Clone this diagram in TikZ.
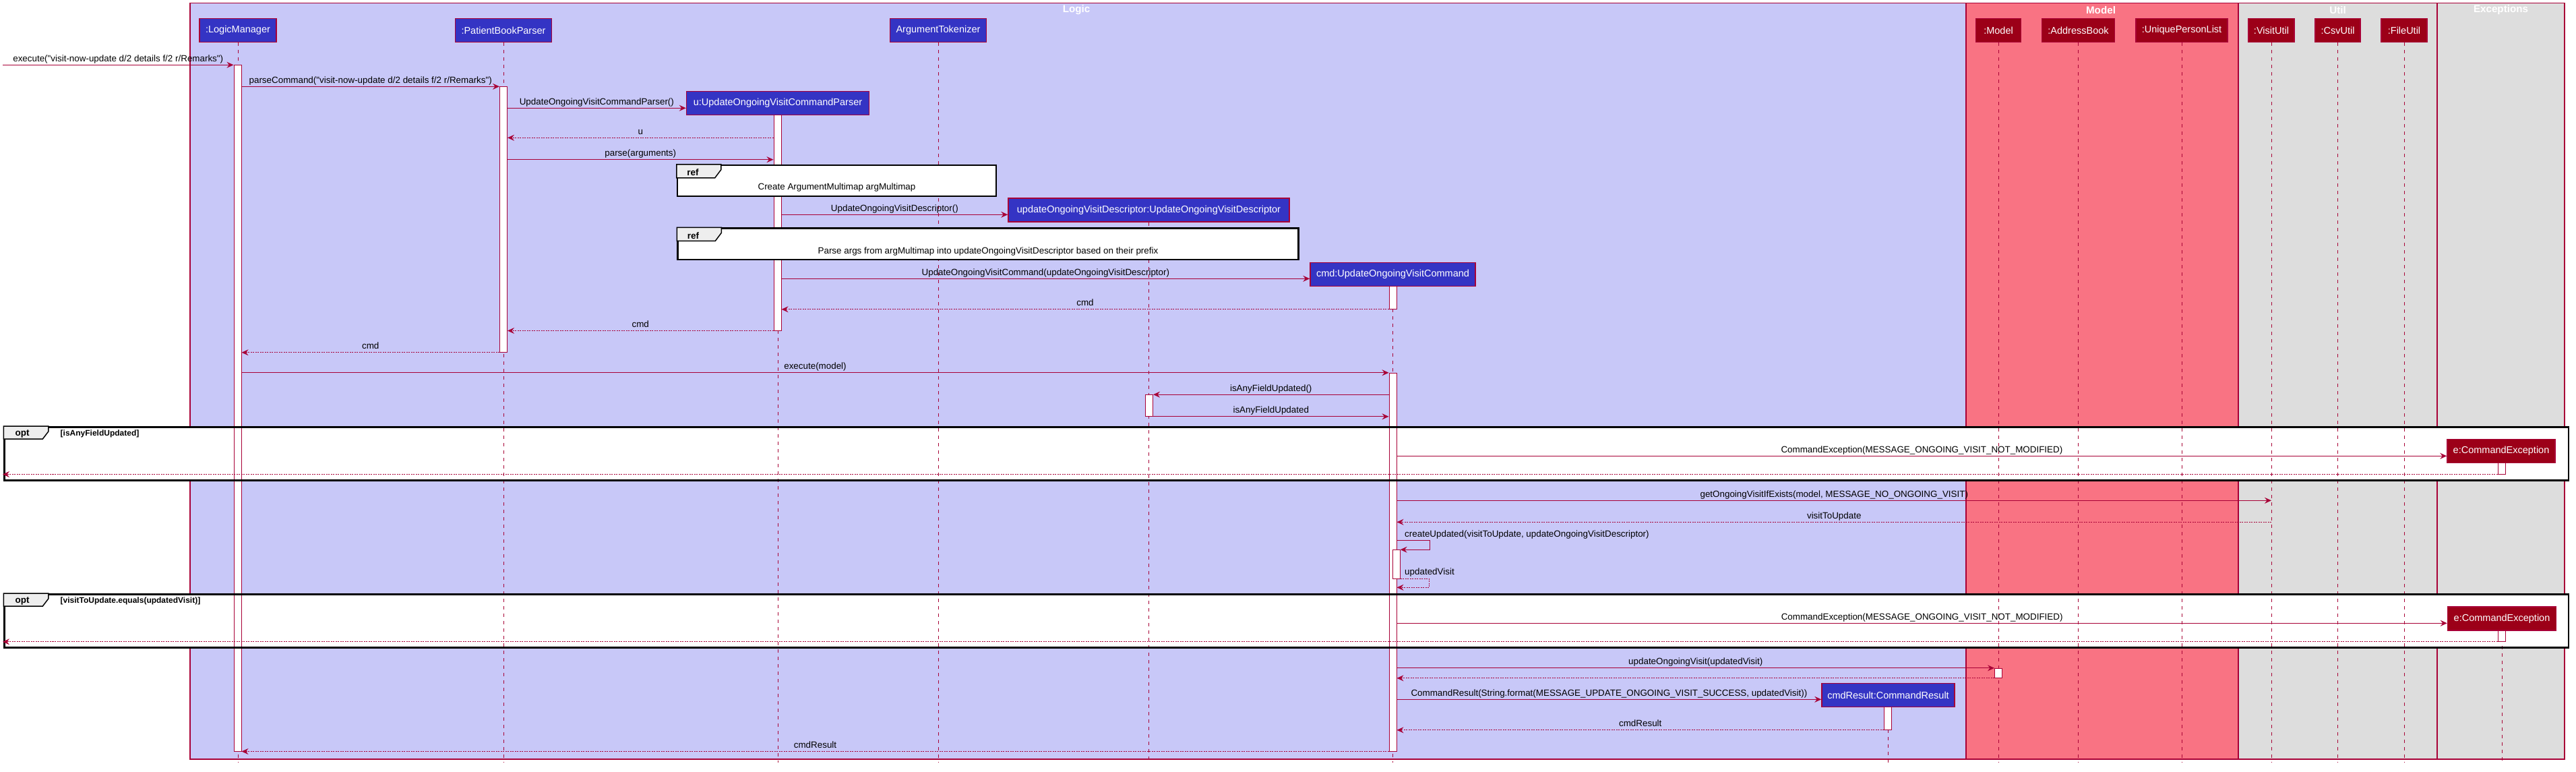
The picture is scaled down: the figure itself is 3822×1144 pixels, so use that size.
\documentclass[tikz,border=0pt]{standalone}
\usepackage{fontspec}
\setmainfont{Liberation Sans}
\newfontfamily\nsans{Liberation Sans}
\usetikzlibrary{arrows.meta}
\definecolor{crim}{HTML}{A80036}
\definecolor{logicbg}{HTML}{C8C8F8}
\definecolor{modelbg}{HTML}{F97383}
\definecolor{utilbg}{HTML}{DDDDDD}
\definecolor{partblue}{HTML}{3434C4}
\definecolor{partred}{HTML}{9C0018}
\definecolor{tabgray}{HTML}{EEEEEE}
\newcommand\msgf{\nsans\fontsize{13.4}{16}\selectfont}
\newcommand\partf{\nsans\fontsize{14.5}{17}\selectfont}
\newcommand\titlef{\nsans\bfseries\fontsize{15.2}{18}\selectfont}
\newcommand\guardf{\nsans\bfseries\fontsize{12}{14}\selectfont}
\newcommand\tabf{\nsans\bfseries\fontsize{13.5}{16}\selectfont}
\begin{document}
\begin{tikzpicture}[x=1pt,y=-1pt,
  bpart/.style={rectangle, draw=crim, line width=1.5pt, fill=partblue, text=white, font=\partf, minimum height=34.6pt, inner sep=0pt},
  rpart/.style={bpart, fill=partred},
  act/.style={rectangle, draw=crim, line width=1pt, fill=white, minimum width=11pt, inner sep=0pt},
  life/.style={draw=crim, line width=0.9pt, dash pattern=on 5pt off 6pt},
  msg/.style={draw=crim, line width=1.2pt, -{Stealth[length=10pt,width=9pt,inset=3.5pt]}},
  ret/.style={msg, dash pattern=on 2pt off 1.5pt},
  lbl/.style={font=\msgf, text=black, inner sep=0pt, anchor=base, yshift=5pt},
  slbl/.style={font=\msgf, text=black, inner sep=0pt, anchor=base west},
  grp/.style={draw=crim, line width=1.5pt},
  gtitle/.style={font=\titlef, text=white, inner sep=0pt},
  optbox/.style={rectangle, draw=black, line width=2.5pt, inner sep=0pt},
  refbox/.style={rectangle, draw=black, line width=2.5pt, fill=white, inner sep=0pt},
  tabshape/.style={draw=black, line width=1.5pt, fill=tabgray},
]
\useasboundingbox (0,0) rectangle (3822,1144);

% ---- group boxes
\filldraw[grp, fill=logicbg] (282,4.5) rectangle (2917,1126);
\filldraw[grp, fill=modelbg] (2917,4.5) rectangle (3321,1126);
\filldraw[grp, fill=utilbg] (3321,4.5) rectangle (3616,1126);
\filldraw[grp, fill=utilbg] (3616,4.5) rectangle (3805,1126);
\node[gtitle] (tlogic) at (1597,15) {Logic};
\node[gtitle] (tmodel) at (3117,15) {Model};
\node[gtitle] (tutil) at (3468.5,15) {Util};
\node[gtitle] (texc) at (3710.5,15) {Exceptions};

% ---- opt fills
\fill[white] (6.6,633.3) rectangle (3811,712.3);
\fill[white] (6.6,881.3) rectangle (3811,960.3);

% ---- participants
\node[bpart, minimum width=114pt] (lm) at (353,45) {:LogicManager};
\node[bpart, minimum width=143pt] (pbp) at (747,45) {:PatientBookParser};
\node[bpart, minimum width=143pt] (at) at (1392,45) {ArgumentTokenizer};
\node[rpart, minimum width=67pt] (model) at (2965,45) {:Model};
\node[rpart, minimum width=108pt] (ab) at (3083.5,45) {:AddressBook};
\node[rpart, minimum width=136pt] (upl) at (3237,45) {:UniquePersonList};
\node[rpart, minimum width=68pt] (vu) at (3370,45) {:VisitUtil};
\node[rpart, minimum width=67pt] (csv) at (3468.5,45) {:CsvUtil};
\node[rpart, minimum width=68pt] (fu) at (3567,45) {:FileUtil};
\node[bpart, minimum width=271pt] (u) at (1154,153) {u:UpdateOngoingVisitCommandParser};
\node[bpart, minimum width=417pt] (desc) at (1704.5,311.5) {updateOngoingVisitDescriptor:UpdateOngoingVisitDescriptor};
\node[bpart, minimum width=245pt] (cmd) at (2066.5,407) {cmd:UpdateOngoingVisitCommand};
\node[bpart, minimum width=197pt] (cmdres) at (2801.5,1031) {cmdResult:CommandResult};
\node[rpart, minimum width=160pt] (e1) at (3711,669) {e:CommandException};
\node[rpart, minimum width=161pt] (e2) at (3712,917.5) {e:CommandException};

% ---- lifelines
\foreach \p in {lm,pbp,at,model,ab,upl,vu,csv,fu,u,desc,cmd,cmdres,e2}
  \draw[life] (\p.south) -- (\p.south |- 0,1131);

% ---- activations
\node[act, minimum height=1017.7pt] (lmact) at (352.5,605.15) {};
\node[act, minimum height=394pt] (pbpact) at (747,325.3) {};
\node[act, minimum height=319.7pt] (uact) at (1153.5,330.15) {};
\node[act, minimum height=34.3pt] (cmdact1) at (2066.5,441.15) {};
\node[act, minimum height=560.7pt] (cmdact2) at (2066.5,833.65) {};
\node[act, minimum height=31.6pt] (descact) at (1705,601.5) {};
\node[act, minimum height=42.6pt] (nestact) at (2071.6,837) {};
\node[act, minimum height=17pt] (e1act) at (3711.5,694.5) {};
\node[act, minimum height=16pt] (e2act) at (3711.5,943.3) {};
\node[act, minimum height=14pt] (modelact) at (2965,998.3) {};
\node[act, minimum height=34.3pt] (cmdresact) at (2801,1065.15) {};

% ---- ref boxes
\node[refbox, minimum width=473pt, minimum height=46pt] (ref1) at (1241.5,268) {};
\filldraw[tabshape] (ref1.north west) -- ++(66,0) -- ++(0,8) -- ++(-9,12) -- ++(-57,0) -- cycle;
\node[font=\tabf, inner sep=0pt] (ref1t) at (1028,256) {ref};
\node[font=\msgf, inner sep=0pt] (ref1x) at (1241.5,277.7) {Create ArgumentMultimap argMultimap};
\node[refbox, minimum width=921pt, minimum height=46.3pt] (ref2) at (1466,361.85) {};
\filldraw[tabshape] (ref2.north west) -- ++(66,0) -- ++(0,8) -- ++(-9,12) -- ++(-57,0) -- cycle;
\node[font=\tabf, inner sep=0pt] (ref2t) at (1028.5,350) {ref};
\node[font=\msgf, inner sep=0pt] (ref2x) at (1466,372.7) {Parse args from argMultimap into updateOngoingVisitDescriptor based on their prefix};

% ---- opt frames
\node[optbox, minimum width=3804.4pt, minimum height=79pt] (opt1) at (1908.8,672.8) {};
\filldraw[tabshape] (opt1.north west) -- ++(66.4,0) -- ++(0,8) -- ++(-8.4,11) -- ++(-58,0) -- cycle;
\node[font=\tabf, inner sep=0pt] (opt1t) at (33,643) {opt};
\node[font=\guardf, inner sep=0pt, anchor=west] (opt1g) at (89.5,643.3) {[isAnyFieldUpdated]};
\node[optbox, minimum width=3804.4pt, minimum height=79pt] (opt2) at (1908.8,920.8) {};
\filldraw[tabshape] (opt2.north west) -- ++(66.4,0) -- ++(0,8) -- ++(-8.4,11) -- ++(-58,0) -- cycle;
\node[font=\tabf, inner sep=0pt] (opt2t) at (33,891) {opt};
\node[font=\guardf, inner sep=0pt, anchor=west] (opt2g) at (89.5,891.3) {[visitToUpdate.equals(updatedVisit)]};

% ---- messages
\coordinate (extin) at (4,96.3);
\draw[msg] (extin) -- node[lbl]{execute("visit-now-update d/2 details f/2 r/Remarks")} (extin -| lmact.west);
\draw[msg] (lmact.east |- 0,128.3) -- node[lbl]{parseCommand("visit-now-update d/2 details f/2 r/Remarks")} (pbpact.west |- 0,128.3);
\draw[msg] (pbpact.east |- 0,160.3) -- node[lbl]{UpdateOngoingVisitCommandParser()} (u.west |- 0,160.3);
\draw[ret] (uact.west |- 0,204.3) -- node[lbl]{u} (pbpact.east |- 0,204.3);
\draw[msg] (pbpact.east |- 0,236.7) -- node[lbl]{parse(arguments)} (uact.west |- 0,236.7);
\draw[msg] (uact.east |- 0,318.3) -- node[lbl]{UpdateOngoingVisitDescriptor()} (desc.west |- 0,318.3);
\draw[msg] (uact.east |- 0,413.3) -- node[lbl]{UpdateOngoingVisitCommand(updateOngoingVisitDescriptor)} (cmd.west |- 0,413.3);
\draw[ret] (cmdact1.south west) -- node[lbl]{cmd} (uact.east |- cmdact1.south west);
\draw[ret] (uact.south west) -- node[lbl]{cmd} (pbpact.east |- uact.south west);
\draw[ret] (pbpact.south west) -- node[lbl]{cmd} (lmact.east |- pbpact.south west);
\draw[msg] (lmact.east |- cmdact2.north west) -- node[lbl]{execute(model)} (cmdact2.north west);
\draw[msg] (cmdact2.west |- descact.north east) -- node[lbl]{isAnyFieldUpdated()} (descact.north east);
\draw[msg] (descact.south east) -- node[lbl]{isAnyFieldUpdated} (cmdact2.west |- descact.south east);
\draw[msg] (cmdact2.east |- 0,676.3) -- node[lbl]{CommandException(MESSAGE\_ONGOING\_VISIT\_NOT\_MODIFIED)} (e1.west |- 0,676.3);
\coordinate (extout1) at (4,703);
\draw[ret] (e1act.south west) -- (extout1 |- e1act.south west);
\draw[msg] (cmdact2.east |- 0,742.3) -- node[lbl]{getOngoingVisitIfExists(model, MESSAGE\_NO\_ONGOING\_VISIT)} (vu.center |- 0,742.3);
\draw[ret] (vu.center |- 0,774.3) -- node[lbl]{visitToUpdate} (cmdact2.east |- 0,774.3);
\draw[msg] (cmdact2.east |- 0,801.7) -- ++(48.6,0) |- (nestact.north east);
\node[slbl] (cul) at (2084,796.7) {createUpdated(visitToUpdate, updateOngoingVisitDescriptor)};
\draw[ret] (nestact.south east) -- ++(43,0) |- (cmdact2.east |- 0,871.3);
\node[slbl] (uvl) at (2084,852.8) {updatedVisit};
\draw[msg] (cmdact2.east |- 0,924.3) -- node[lbl]{CommandException(MESSAGE\_ONGOING\_VISIT\_NOT\_MODIFIED)} (e2.west |- 0,924.3);
\coordinate (extout2) at (4,951.3);
\draw[ret] (e2act.south west) -- (extout2 |- e2act.south west);
\draw[msg] (cmdact2.east |- modelact.north west) -- node[lbl]{updateOngoingVisit(updatedVisit)} (modelact.north west);
\draw[ret] (modelact.south west) -- (cmdact2.east |- modelact.south west);
\draw[msg] (cmdact2.east |- 0,1037.3) -- node[lbl]{CommandResult(String.format(MESSAGE\_UPDATE\_ONGOING\_VISIT\_SUCCESS, updatedVisit))} (cmdres.west |- 0,1037.3);
\draw[ret] (cmdresact.south west) -- node[lbl]{cmdResult} (cmdact2.east |- cmdresact.south west);
\draw[ret] (cmdact2.south west) -- node[lbl]{cmdResult} (lmact.east |- cmdact2.south west);
\end{tikzpicture}
\end{document}
